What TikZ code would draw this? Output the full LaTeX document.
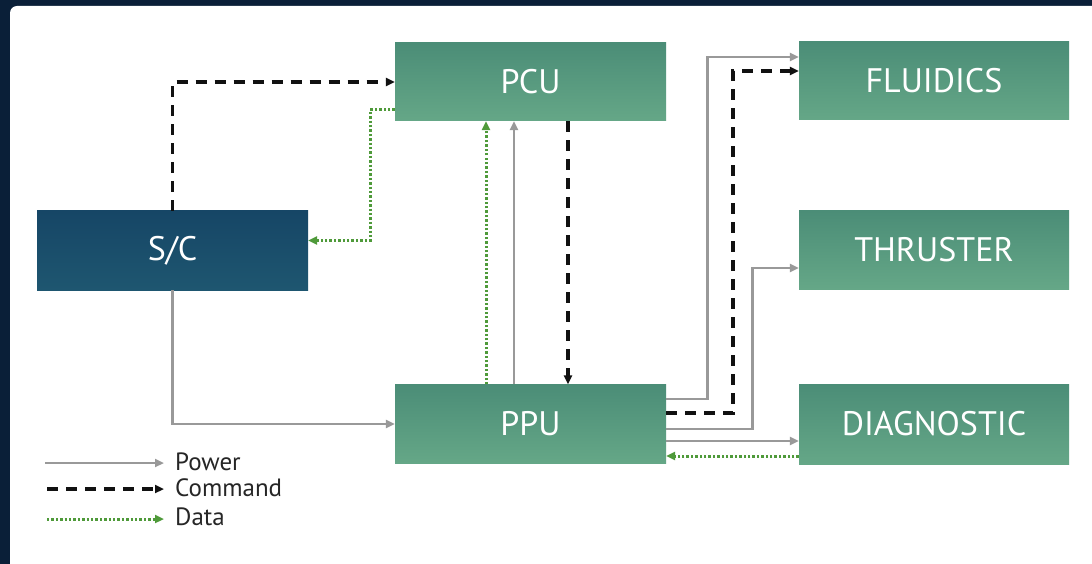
\documentclass[tikz,border=0pt]{standalone}
\usepackage{fontspec}
\setmainfont{PT Sans}
\usetikzlibrary{arrows.meta,calc}
\definecolor{bgdark}{HTML}{0A1F38}
\definecolor{grn1}{HTML}{4B8D77}
\definecolor{grn2}{HTML}{65A787}
\definecolor{nav1}{HTML}{164666}
\definecolor{nav2}{HTML}{1E5670}
\definecolor{powc}{HTML}{999999}
\definecolor{datc}{HTML}{4F9A3A}
\definecolor{cmdc}{HTML}{111111}
\definecolor{txtc}{HTML}{262626}
\tikzset{
  gbox/.style={rectangle, minimum width=271pt, minimum height=78pt, inner sep=0pt,
    top color=grn1, bottom color=grn2, text=white, font=\fontsize{34}{37}\selectfont},
  nbox/.style={gbox, top color=nav1, bottom color=nav2},
  pow/.style={draw=powc, line width=2.8pt, -{Triangle[length=9pt,width=8pt]}},
  cmd/.style={draw=cmdc, line width=3.4pt, dash pattern=on 11pt off 8pt, -{Triangle[length=9pt,width=8pt]}},
  dat/.style={draw=datc, line width=3pt, dash pattern=on 2.4pt off 2pt, -{Triangle[length=9pt,width=8pt]}},
  legtxt/.style={anchor=west, inner sep=0pt, text=txtc, font=\fontsize{25}{28}\selectfont}
}
\begin{document}
\begin{tikzpicture}[x=1pt,y=-1pt]
\useasboundingbox (0,0) rectangle (1092,564);
\fill[bgdark] (0,0) rectangle (1092,564);
\fill[white, rounded corners=7pt] (10,6) rectangle (1110,580);

\node[nbox, minimum width=271pt, minimum height=79pt] (sc) at (172.5,250.5) {S/C};
\node[gbox] (pcu) at (530.5,82) {PCU};
\node[gbox, minimum height=79pt] (ppu) at (530.5,424) {PPU};
\node[gbox, minimum width=270pt] (flu) at (934,81) {FLUIDICS};
\node[gbox, minimum width=270pt] (thr) at (934,250) {THRUSTER};
\node[gbox, minimum width=270pt, minimum height=80pt] (dia) at (934,424) {DIAGNOSTIC};

% S/C <-> PCU / PPU
\draw[cmd] (sc.north) |- (pcu.west);
\draw[pow] (sc.south) |- (ppu.west);
\draw[dat] ($(pcu.west)+(0,28)$) -| ($(sc.east)+(62,-10)$) -- ($(sc.east)+(0,-10)$);

% PCU <-> PPU
\draw[dat] ($(ppu.north)+(-44.5,0)$) -- ($(pcu.south)+(-44.5,0)$);
\draw[pow] ($(ppu.north)+(-16.5,0)$) -- ($(pcu.south)+(-16.5,0)$);
\draw[cmd] ($(pcu.south)+(37.5,0)$) -- ($(ppu.north)+(37.5,0)$);

% PPU -> loads
\draw[pow] ($(ppu.east)+(0,-25)$) -| ($(flu.west)+(-91,-24)$) -- ($(flu.west)+(0,-24)$);
\draw[cmd] ($(ppu.east)+(0,-11)$) -| ($(flu.west)+(-66,-10)$) -- ($(flu.west)+(0,-10)$);
\draw[pow] ($(ppu.east)+(0,5)$) -| ($(thr.west)+(-46,18)$) -- ($(thr.west)+(0,18)$);
\draw[pow] ($(ppu.east)+(0,17)$) -- ($(dia.west)+(0,17)$);
\draw[dat] ($(dia.west)+(0,32)$) -- ($(ppu.east)+(0,32)$);

% legend
\node[legtxt] (lpow) at (175,462) {Power};
\node[legtxt] (lcmd) at (175,488) {Command};
\node[legtxt] (ldat) at (175,517) {Data};
\coordinate (lp0) at (45,463);
\coordinate (lc0) at (47,489);
\coordinate (ld0) at (47,519);
\draw[pow] (lp0) -- ([xshift=-11pt]lp0 -| lpow.west);
\draw[cmd] (lc0) -- ([xshift=-11pt]lc0 -| lcmd.west);
\draw[dat] (ld0) -- ([xshift=-11pt]ld0 -| ldat.west);
\end{tikzpicture}
\end{document}
